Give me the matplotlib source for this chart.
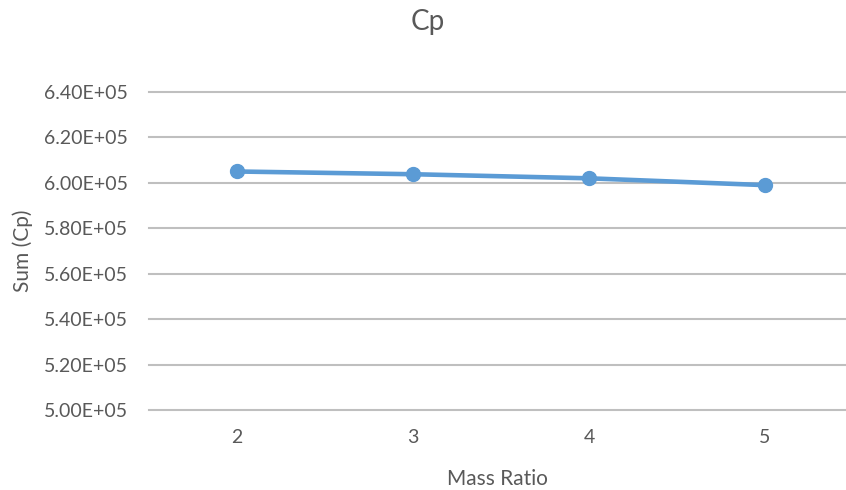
import matplotlib
matplotlib.use("Agg")
import matplotlib.pyplot as plt
from matplotlib.ticker import FuncFormatter

mass_ratio = [2, 3, 4, 5]
sum_cp = [605000, 603800, 602000, 599000]
yticks = [500000, 520000, 540000, 560000, 580000, 600000, 620000, 640000]

plt.rcParams['font.family'] = ['Lato', 'DejaVu Sans']
grey = '#595959'

fig = plt.figure(figsize=(8.46, 4.9), dpi=100)
ax = fig.add_axes([149/846, 80/490, 697/846, 318/490])

ax.plot(mass_ratio, sum_cp, color='#5B9BD5', lw=3.3, marker='o', ms=10,
        solid_capstyle='round', zorder=3)

ax.set_xlim(1.5, 5.46)
ax.set_ylim(500000, 640000)
ax.set_xticks(mass_ratio)
ax.set_yticks(yticks)
ax.yaxis.set_major_formatter(FuncFormatter(lambda v, p: f"{v/1e5:.2f}E+05"))
ax.grid(axis='y', color='#BFBFBF', lw=1.5)
ax.set_axisbelow(True)
for s in ax.spines.values():
    s.set_visible(False)
for gl in ax.get_ygridlines():
    gl.set_clip_on(False)
ax.tick_params(length=0, labelsize=14, colors=grey, pad=15)
ax.tick_params(axis='x', pad=14)

ax.set_xlabel("Mass Ratio", fontsize=15, color=grey, labelpad=16)
ax.set_ylabel("Sum (Cp)", fontsize=15, color=grey, labelpad=8)
fig.text(428/846, 1 - 22/490, "Cp", fontsize=20, color=grey, ha='center', va='center')

fig.savefig("out.png", dpi=100)
